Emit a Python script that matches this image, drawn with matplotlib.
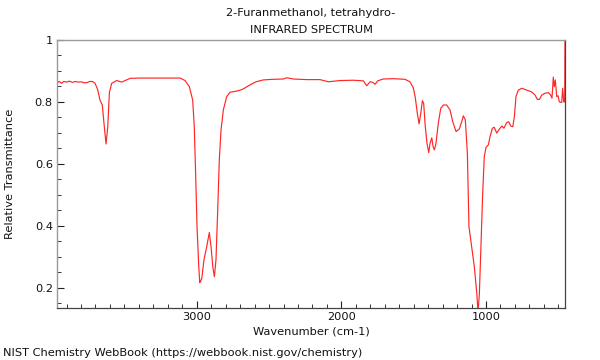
import matplotlib
matplotlib.use("Agg")
import matplotlib.pyplot as plt
from matplotlib.ticker import MultipleLocator

title_line1 = "2-Furanmethanol, tetrahydro-"
title_line2 = "INFRARED SPECTRUM"
x_label = "Wavenumber (cm-1)"
y_label = "Relative Transmittance"
footer = "NIST Chemistry WebBook (https://webbook.nist.gov/chemistry)"

wavenumber = [
    3966, 3950, 3935, 3920, 3900, 3880, 3860, 3840, 3820, 3800, 3780, 3760, 3740, 3720,
    3703, 3685, 3669, 3653, 3639, 3627, 3615, 3604, 3588, 3553, 3519, 3490, 3461, 3400,
    3323, 3200, 3115, 3081, 3051, 3028, 3017, 3007, 2998, 2986, 2979, 2972, 2965, 2950,
    2931, 2913, 2901, 2889, 2878, 2867, 2855, 2844, 2832, 2816, 2793, 2770, 2723, 2700,
    2678, 2632, 2590, 2540, 2470, 2401, 2378, 2355, 2332, 2240, 2148, 2090, 2009, 1917,
    1848, 1825, 1802, 1783, 1767, 1749, 1710, 1641, 1560, 1526, 1503, 1489, 1475, 1463,
    1451, 1440, 1431, 1420, 1408, 1396, 1387, 1375, 1366, 1357, 1346, 1330, 1313, 1295,
    1272, 1249, 1230, 1207, 1185, 1168, 1157, 1143, 1129, 1118, 1099, 1081, 1064, 1055,
    1046, 1035, 1023, 1012, 1000, 984, 972, 956, 943, 926, 908, 891, 876, 857,
    843, 829, 815, 804, 793, 777, 753, 719, 684, 661, 645, 631, 615, 592,
    569, 553, 544, 535, 528, 521, 511, 502, 493, 477, 470, 463, 456, 454,
]
transmittance = [
    0.862, 0.866, 0.860, 0.866, 0.864, 0.867, 0.863, 0.866, 0.864, 0.865, 0.862, 0.862, 0.866, 0.866,
    0.860, 0.840, 0.806, 0.790, 0.720, 0.664, 0.720, 0.830, 0.860, 0.869, 0.864, 0.870, 0.876, 0.877,
    0.877, 0.877, 0.877, 0.869, 0.849, 0.806, 0.720, 0.558, 0.397, 0.268, 0.216, 0.222, 0.230, 0.289,
    0.332, 0.378, 0.332, 0.268, 0.235, 0.289, 0.450, 0.612, 0.709, 0.774, 0.817, 0.831, 0.835, 0.838,
    0.842, 0.855, 0.865, 0.871, 0.873, 0.874, 0.878, 0.876, 0.874, 0.872, 0.872, 0.865, 0.869, 0.870,
    0.868, 0.852, 0.865, 0.863, 0.857, 0.868, 0.874, 0.875, 0.873, 0.865, 0.846, 0.814, 0.763, 0.729,
    0.763, 0.804, 0.795, 0.720, 0.666, 0.636, 0.666, 0.684, 0.655, 0.645, 0.666, 0.731, 0.779, 0.790,
    0.790, 0.774, 0.736, 0.704, 0.712, 0.736, 0.755, 0.742, 0.634, 0.397, 0.332, 0.268, 0.182, 0.120,
    0.180, 0.332, 0.505, 0.623, 0.653, 0.661, 0.688, 0.715, 0.718, 0.699, 0.712, 0.722, 0.715, 0.733,
    0.736, 0.722, 0.720, 0.752, 0.817, 0.838, 0.844, 0.838, 0.832, 0.822, 0.808, 0.808, 0.822, 0.828,
    0.830, 0.822, 0.812, 0.880, 0.849, 0.871, 0.817, 0.820, 0.800, 0.798, 0.844, 0.800, 0.800, 1.000,
]

x_ticks = [3000, 2000, 1000]
y_ticks = [0.2, 0.4, 0.6, 0.8, 1.0]
y_tick_labels = ["0.2", "0.4", "0.6", "0.8", "1"]

plt.rcParams["font.family"] = ["DejaVu Sans"]
fig = plt.figure(figsize=(6, 3.6), dpi=100)
ax = fig.add_axes([57 / 600, 1 - 308 / 360, (565 - 57) / 600, (308 - 40) / 360])

ax.plot(wavenumber, transmittance, color="#ff0000", linewidth=0.85, alpha=0.85)
ax.set_xlim(3966, 454)
ax.set_ylim(0.134, 1.0)

ax.set_xticks(x_ticks)
ax.set_xticklabels([str(t) for t in x_ticks])
ax.set_yticks(y_ticks)
ax.set_yticklabels(y_tick_labels)
ax.xaxis.set_minor_locator(MultipleLocator(100))
ax.yaxis.set_minor_locator(MultipleLocator(0.05))
ax.tick_params(axis="both", which="major", direction="in", length=5, width=0.8,
               labelsize=8.2, colors="#222222", pad=3)
ax.tick_params(axis="both", which="minor", direction="in", length=3, width=0.7, colors="#333333")
ax.tick_params(axis="both", labelcolor="#111111")

for side in ["top", "left"]:
    ax.spines[side].set_color("#9a9a9a")
    ax.spines[side].set_linewidth(1.0)
for side in ["bottom", "right"]:
    ax.spines[side].set_color("#444444")
    ax.spines[side].set_linewidth(0.9)

cx = (57 + 565) / 2 / 600
fs = 8.2
fig.text(cx, 1 - 13 / 360, title_line1, ha="center", va="center", fontsize=fs, color="#111111")
fig.text(cx, 1 - 30 / 360, title_line2, ha="center", va="center", fontsize=fs, color="#111111")
fig.text(cx, 1 - 332 / 360, x_label, ha="center", va="center", fontsize=fs, color="#111111")
fig.text(10 / 600, 1 - 174 / 360, y_label, ha="center", va="center", rotation=90,
         fontsize=fs, color="#111111")
fig.text(3 / 600, 1 - 353 / 360, footer, ha="left", va="center", fontsize=fs, color="#111111")

fig.savefig("out.png", dpi=100)
